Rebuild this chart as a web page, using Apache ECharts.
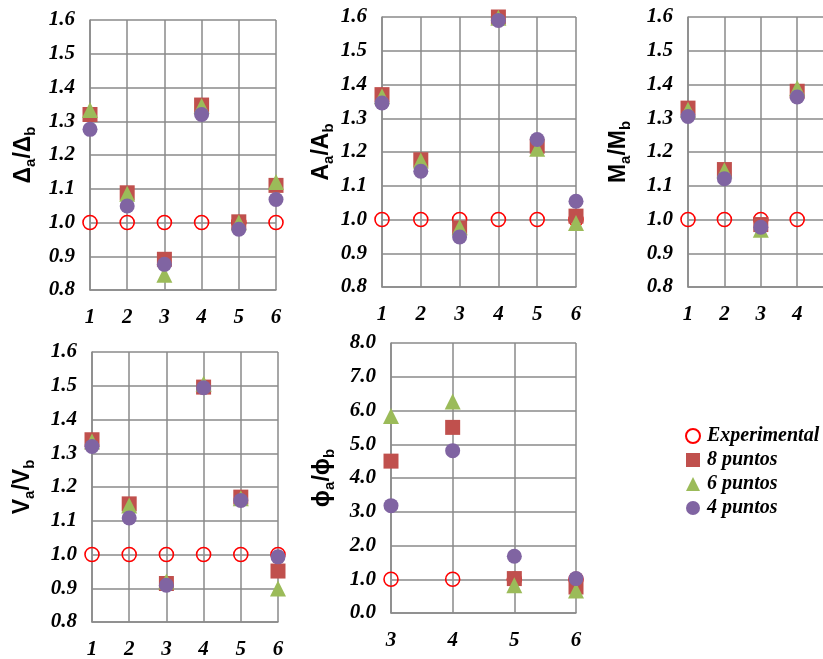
<!DOCTYPE html>
<html>
<head>
<meta charset="utf-8">
<script src="https://cdn.jsdelivr.net/npm/echarts@6/dist/echarts.min.js"></script>
<style>
  html, body { margin: 0; padding: 0; background: #fff; }
  #chart { width: 823px; height: 659px; }
</style>
</head>
<body>
<div id="chart"></div>
<script>
// Przekroje 1..6 (phi tylko 3..6, M widoczne tylko 1..4)
const xSec = [1, 2, 3, 4, 5, 6];
const xSecM = [1, 2, 3, 4];
const xSecPhi = [3, 4, 5, 6];

const deltaExp = [1.0, 1.0, 1.0, 1.0, 1.0, 1.0];
const delta8 = [1.32, 1.088, 0.891, 1.348, 1.002, 1.11];
const delta6 = [1.333, 1.085, 0.845, 1.345, 1.0, 1.12];
const delta4 = [1.276, 1.049, 0.876, 1.32, 0.98, 1.068];

const areaExp = [1.0, 1.0, 1.0, 1.0, 1.0, 1.0];
const area8 = [1.37, 1.177, 0.975, 1.6, 1.217, 1.01];
const area6 = [1.365, 1.175, 0.977, 1.598, 1.21, 0.99];
const area4 = [1.345, 1.143, 0.948, 1.59, 1.237, 1.054];

const momExp = [1.0, 1.0, 1.0, 1.0];
const mom8 = [1.33, 1.148, 0.985, 1.38];
const mom6 = [1.325, 1.146, 0.97, 1.39];
const mom4 = [1.305, 1.121, 0.977, 1.363];

const shearExp = [1.0, 1.0, 1.0, 1.0, 1.0, 1.0];
const shear8 = [1.34, 1.15, 0.914, 1.496, 1.17, 0.951];
const shear6 = [1.335, 1.145, 0.92, 1.506, 1.167, 0.899];
const shear4 = [1.32, 1.108, 0.909, 1.494, 1.16, 0.993];

const phiExp = [1.0, 1.0, 1.0, 1.0];
const phi8 = [4.5, 5.5, 1.02, 0.77];
const phi6 = [5.84, 6.27, 0.82, 0.67];
const phi4 = [3.18, 4.81, 1.68, 1.02];

const serieNames = ["Experimental", "8 puntos", "6 puntos", "4 puntos"];

const chart = echarts.init(document.getElementById("chart"));

const gridColor = "#8a8a8a";
const tickFont = {
  fontFamily: "Liberation Serif",
  fontStyle: "italic",
  fontWeight: "bold",
  fontSize: 21,
  color: "#000",
};

function pair(xs, ys) {
  return xs.map((x, i) => [x, ys[i]]);
}

function axisTitle(main1, sub1, main2, sub2) {
  return `{m|${main1}}{s|${sub1}}{m|/${main2}}{s|${sub2}}`;
}

const nameRich = {
  m: { fontFamily: "Liberation Sans", fontWeight: "bold", fontSize: 23, color: "#000", lineHeight: 28 },
  s: { fontFamily: "Liberation Sans", fontWeight: "bold", fontSize: 15, color: "#000", lineHeight: 28, verticalAlign: "bottom", padding: [7, 0, 0, 0] },
};

// panele: pozycje siatek
const panels = [
  { left: 90, top: 20, width: 186, height: 270, xmin: 1, xmax: 6, ymin: 0.8, ymax: 1.6, yint: 0.1, title: axisTitle("Δ", "a", "Δ", "b"), gap: 52,
    xs: xSec, exp: deltaExp, s8: delta8, s6: delta6, s4: delta4 },
  { left: 382, top: 17, width: 194, height: 270, xmin: 1, xmax: 6, ymin: 0.8, ymax: 1.6, yint: 0.1, title: axisTitle("A", "a", "A", "b"), gap: 46,
    xs: xSec, exp: areaExp, s8: area8, s6: area6, s4: area4 },
  { left: 688, top: 17, width: 182, height: 270, xmin: 1, xmax: 6, ymin: 0.8, ymax: 1.6, yint: 0.1, title: axisTitle("M", "a", "M", "b"), gap: 55,
    xs: xSecM, exp: momExp, s8: mom8, s6: mom6, s4: mom4 },
  { left: 92, top: 352, width: 186, height: 270, xmin: 1, xmax: 6, ymin: 0.8, ymax: 1.6, yint: 0.1, title: axisTitle("V", "a", "V", "b"), gap: 55,
    xs: xSec, exp: shearExp, s8: shear8, s6: shear6, s4: shear4 },
  { left: 391, top: 343, width: 185, height: 270, xmin: 3, xmax: 6, ymin: 0, ymax: 8, yint: 1, title: axisTitle("ϕ", "a", "ϕ", "b"), gap: 54,
    xs: xSecPhi, exp: phiExp, s8: phi8, s6: phi6, s4: phi4 },
];

const grids = [];
const xAxes = [];
const yAxes = [];
const series = [];

panels.forEach((p, i) => {
  grids.push({ left: p.left, top: p.top, width: p.width, height: p.height, containLabel: false, outerBoundsMode: "none" });
  xAxes.push({
    type: "value",
    gridIndex: i,
    min: p.xmin,
    max: p.xmax,
    interval: 1,
    axisLine: { show: true, onZero: false, lineStyle: { color: gridColor, width: 1.5 } },
    axisTick: { show: false },
    splitLine: { show: true, lineStyle: { color: gridColor, width: 1.5 } },
    axisLabel: Object.assign({ margin: 17 }, tickFont),
  });
  yAxes.push({
    type: "value",
    gridIndex: i,
    min: p.ymin,
    max: p.ymax,
    interval: p.yint,
    axisLine: { show: true, onZero: false, lineStyle: { color: gridColor, width: 1.5 } },
    axisTick: { show: false },
    splitLine: { show: true, lineStyle: { color: gridColor, width: 1.5 } },
    axisLabel: Object.assign({ margin: 15, formatter: (v) => v.toFixed(1) }, tickFont),
    name: p.title,
    nameLocation: "middle",
    nameRotate: 90,
    nameGap: p.gap,
    nameTextStyle: { rich: nameRich },
  });

  const common = { type: "scatter", xAxisIndex: i, yAxisIndex: i, clip: false, z: 3 };
  series.push(Object.assign({}, common, {
    name: serieNames[0],
    symbol: "circle",
    symbolSize: 14,
    itemStyle: { color: "rgba(255,255,255,0)", borderColor: "#ff0000", borderWidth: 1.6, opacity: 1 },
    data: pair(p.xs, p.exp),
  }));
  series.push(Object.assign({}, common, {
    name: serieNames[1],
    symbol: "rect",
    symbolSize: 15,
    itemStyle: { color: "#c0504d", opacity: 1 },
    data: pair(p.xs, p.s8),
  }));
  series.push(Object.assign({}, common, {
    name: serieNames[2],
    symbol: "triangle",
    symbolSize: 16,
    itemStyle: { color: "#9bbb59", opacity: 1 },
    data: pair(p.xs, p.s6),
  }));
  series.push(Object.assign({}, common, {
    name: serieNames[3],
    symbol: "circle",
    symbolSize: 15,
    itemStyle: { color: "#8064a2", opacity: 1 },
    data: pair(p.xs, p.s4),
  }));
});

const option = {
  animation: false,
  backgroundColor: "#fff",
  grid: grids,
  xAxis: xAxes,
  yAxis: yAxes,
  legend: {
    orient: "vertical",
    left: 680,
    top: 421,
    itemWidth: 14,
    itemHeight: 14,
    itemGap: 4,
    data: serieNames,
    textStyle: {
      fontFamily: "Liberation Serif",
      fontStyle: "italic",
      fontWeight: "bold",
      fontSize: 20,
      color: "#000",
      padding: [0, 0, 0, 2],
    },
  },
  series: series,
};

chart.setOption(option);
</script>
</body>
</html>
